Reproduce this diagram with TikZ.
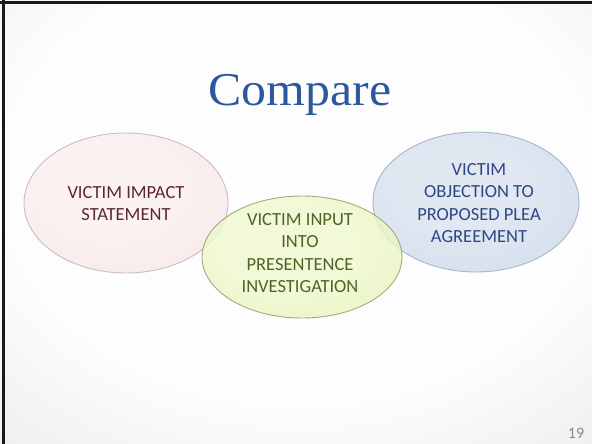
\documentclass[tikz,border=0pt]{standalone}
\usepackage{fontspec}
\setmainfont{Carlito}
\newfontfamily\titlefont{Liberation Serif}
\usetikzlibrary{shapes.geometric}

\definecolor{bgin}{RGB}{253,253,253}
\definecolor{bgout}{RGB}{210,210,210}
\definecolor{titleblue}{RGB}{46,88,158}
\definecolor{pinkin}{RGB}{252,240,240}
\definecolor{pinkout}{RGB}{242,218,220}
\definecolor{pinkline}{RGB}{200,182,188}
\definecolor{pinktext}{RGB}{92,40,42}
\definecolor{greenin}{RGB}{240,249,208}
\definecolor{greenout}{RGB}{222,238,166}
\definecolor{greenline}{RGB}{150,164,112}
\definecolor{greentext}{RGB}{78,100,36}
\definecolor{bluein}{RGB}{218,227,240}
\definecolor{blueout}{RGB}{190,205,227}
\definecolor{blueline}{RGB}{160,176,202}
\definecolor{bluetext}{RGB}{44,72,132}
\definecolor{pagenum}{RGB}{138,138,138}

% soft radial fills, lightest towards the middle
\pgfdeclareradialshading{slidebg}{\pgfpoint{0bp}{0bp}}{color(0bp)=(bgin); color(18bp)=(bgin); color(50bp)=(bgout)}
\pgfdeclareradialshading{pinkglow}{\pgfpoint{-6bp}{8bp}}{color(0bp)=(pinkin); color(15bp)=(pinkin); color(50bp)=(pinkout)}
\pgfdeclareradialshading{greenglow}{\pgfpoint{-6bp}{8bp}}{color(0bp)=(greenin); color(15bp)=(greenin); color(50bp)=(greenout)}
\pgfdeclareradialshading{blueglow}{\pgfpoint{-6bp}{8bp}}{color(0bp)=(bluein); color(15bp)=(bluein); color(50bp)=(blueout)}

\tikzset{
  venn/.style={ellipse, inner sep=0pt, line width=0.9pt, fill opacity=0.8, draw opacity=0.9},
  venntext/.style={align=center, font=\fontsize{18.5}{22.6}\selectfont},
}

\begin{document}
\begin{tikzpicture}[x=1pt,y=-1pt]
  \useasboundingbox (0,0) rectangle (592,444);

  % slide background
  \begin{scope}
    \clip (0,0) rectangle (592,444);
    \path[shading=slidebg] (-110,-130) rectangle (710,490);
  \end{scope}

  % frame edges
  \draw[line width=3.2pt, black!90] (3.6,0) -- (3.6,444);
  \draw[line width=3pt, black!90] (0,2.6) -- (592,2.6);

  % title
  \node[anchor=base, text=titleblue, font=\titlefont\fontsize{47}{52}\selectfont, xscale=1.06] (title) at (300,106) {Compare};

  % the three overlapping ellipses
  \node[venn, shading=pinkglow, draw=pinkline, minimum width=204pt, minimum height=140pt] (impact) at (126,203) {};
  \node[venn, shading=blueglow, draw=blueline, minimum width=206pt, minimum height=140pt] (objection) at (476,202) {};
  \node[venn, shading=greenglow, draw=greenline, minimum width=200pt, minimum height=122pt] (input) at (302,257) {};

  % ellipse captions
  \node[venntext, text=pinktext] (impacttext) at (126,203.5) {VICTIM IMPACT\\STATEMENT};
  \node[venntext, text=greentext] (inputtext) at (300,253) {VICTIM INPUT\\INTO\\PRESENTENCE\\INVESTIGATION};
  \node[venntext, text=bluetext] (objectiontext) at (479,203) {VICTIM\\OBJECTION TO\\PROPOSED PLEA\\AGREEMENT};

  % page number
  \node[text=pagenum, font=\fontsize{16}{18}\selectfont] (page) at (576,433) {19};
\end{tikzpicture}
\end{document}
